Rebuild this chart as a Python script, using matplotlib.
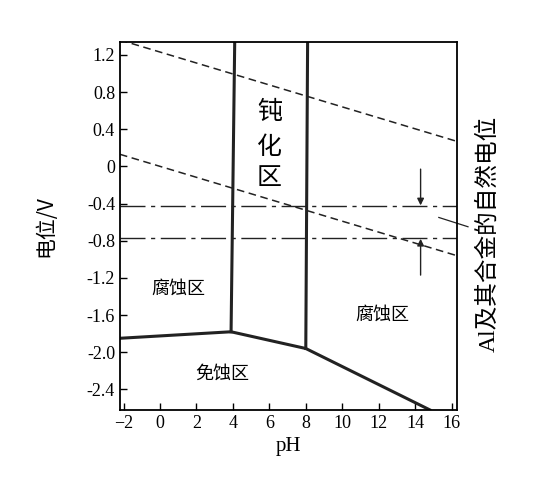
import matplotlib
matplotlib.use("Agg")
import matplotlib.pyplot as plt
import numpy as np

plt.rcParams['font.family'] = ['Liberation Serif', 'Noto Sans CJK SC', 'DejaVu Sans']

xticks = [-2, 0, 2, 4, 6, 8, 10, 12, 14, 16]
yticks = [1.2, 0.8, 0.4, 0, -0.4, -0.8, -1.2, -1.6, -2.0, -2.4]
ytick_labels = ['1.2', '0.8', '0.4', '0', '-0.4', '-0.8', '-1.2', '-1.6', '-2.0', '-2.4']

# boundaries
bottom_x = [-2.2, 3.9, 8.0, 14.8]
bottom_y = [-1.85, -1.78, -1.96, -2.62]
v1_x = [4.1, 3.9]; v1_y = [1.34, -1.78]
v2_x = [8.1, 8.0]; v2_y = [1.34, -1.96]
# water lines
ph_line = [-2.2, 16.3]
o2_int, h2_int, slope = 1.23, 0.0, -0.059
# natural potentials
nat_pot = [-0.43, -0.77]

fig = plt.figure(figsize=(5.5, 4.92), dpi=100)
ax = fig.add_axes([0.218, 0.167, 0.613, 0.748])
ax.set_xlim(-2.2, 16.3)
ax.set_ylim(-2.62, 1.34)

ax.plot(bottom_x, bottom_y, color='#222', lw=2.2)
ax.plot(v1_x, v1_y, color='#222', lw=2.2)
ax.plot(v2_x, v2_y, color='#222', lw=2.2)
px = np.array(ph_line)
ax.plot(px, o2_int + slope * px, color='#222', lw=1.1, ls=(0, (5, 3)))
ax.plot(px, h2_int + slope * px, color='#222', lw=1.1, ls=(0, (5, 3)))
for v in nat_pot:
    ax.plot(ph_line, [v, v], color='#222', lw=1.0, ls=(0, (18, 4, 3, 4)))

ax.annotate('', xy=(14.3, nat_pot[0] - 0.02), xytext=(14.3, -0.0),
            arrowprops=dict(arrowstyle='-|>', color='#222', lw=1, mutation_scale=10))
ax.annotate('', xy=(14.3, nat_pot[1] + 0.02), xytext=(14.3, -1.2),
            arrowprops=dict(arrowstyle='-|>', color='#222', lw=1, mutation_scale=10))
ax.plot([15.3, 16.9], [-0.55, -0.65], color='#222', lw=0.9, clip_on=False)

cjk = ['Noto Sans CJK SC']
ax.text(6.0, 0.58, '钝', fontsize=18, ha='center', va='center', family=cjk)
ax.text(6.0, 0.21, '化', fontsize=18, ha='center', va='center', family=cjk)
ax.text(6.0, -0.13, '区', fontsize=18, ha='center', va='center', family=cjk)
ax.text(1.0, -1.32, '腐蚀区', fontsize=13, ha='center', va='center', family=cjk)
ax.text(12.2, -1.6, '腐蚀区', fontsize=13, ha='center', va='center', family=cjk)
ax.text(3.4, -2.23, '免蚀区', fontsize=13, ha='center', va='center', family=cjk)
fig.text(0.888, 0.525, 'Al及其合金的自然电位', rotation=90, fontsize=17,
         ha='center', va='center', family=['Liberation Serif', 'Noto Sans CJK SC'])

ax.set_xticks(xticks)
ax.set_yticks(yticks)
ax.set_yticklabels(ytick_labels)
ax.tick_params(direction='in', labelsize=13, length=5, width=1)
ax.set_xlabel('pH', fontsize=15)
ax.set_ylabel('电位/V', fontsize=15, family=['Noto Sans CJK SC'], labelpad=22)
for s in ax.spines.values():
    s.set_linewidth(1.3)

fig.savefig('out.png', dpi=100)
